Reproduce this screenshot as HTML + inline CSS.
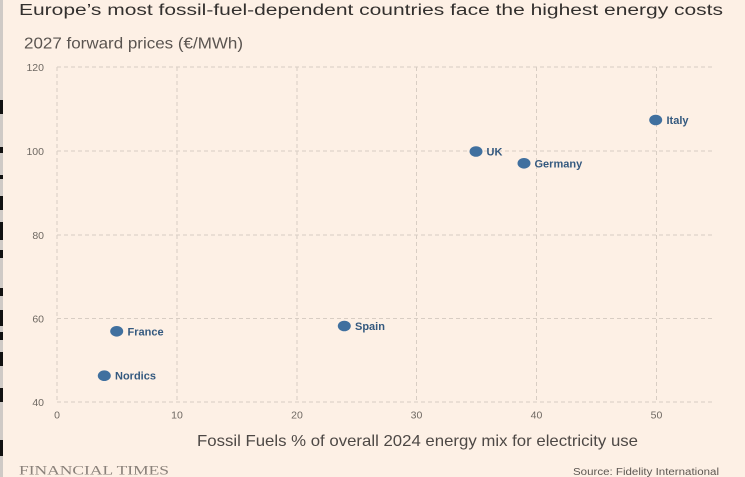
<!DOCTYPE html>
<html>
<head>
<meta charset="utf-8">
<style>
  html,body{margin:0;padding:0;background:#fdf0e5;}
  svg{display:block;}
  text{font-family:"Liberation Sans","DejaVu Sans",sans-serif;}
</style>
</head>
<body>
<svg width="745" height="477" viewBox="0 0 745 477" xmlns="http://www.w3.org/2000/svg">
  <rect x="0" y="0" width="745" height="477" fill="#fdf0e5"/>
  <!-- left edge artifact strip -->
  <rect x="0" y="0" width="3" height="477" fill="#cfcac6"/>
  <g fill="#111">
    <rect x="0" y="100" width="3" height="14"/>
    <rect x="0" y="147" width="3" height="6"/>
    <rect x="0" y="175" width="3" height="4"/>
    <rect x="0" y="196" width="3" height="14"/>
    <rect x="0" y="222" width="3" height="18"/>
    <rect x="0" y="250" width="3" height="8"/>
    <rect x="0" y="288" width="3" height="8"/>
    <rect x="0" y="310" width="3" height="16"/>
    <rect x="0" y="332" width="3" height="8"/>
    <rect x="0" y="352" width="3" height="14"/>
    <rect x="0" y="388" width="3" height="14"/>
    <rect x="0" y="440" width="3" height="16"/>
  </g>

  <!-- Title -->
  <text x="19" y="15" font-size="15.5" fill="#33302e" textLength="704" lengthAdjust="spacingAndGlyphs">Europe’s most fossil-fuel-dependent countries face the highest energy costs</text>
  <!-- Subtitle -->
  <text x="24" y="48.5" font-size="16" fill="#5a5450" textLength="219" lengthAdjust="spacingAndGlyphs">2027 forward prices (€/MWh)</text>

  <!-- grid -->
  <g stroke="#d8cdc3" stroke-width="1" stroke-dasharray="4,3" fill="none">
    <line x1="57" y1="67" x2="715" y2="67"/>
    <line x1="57" y1="151" x2="715" y2="151"/>
    <line x1="57" y1="235" x2="715" y2="235"/>
    <line x1="57" y1="318.5" x2="715" y2="318.5"/>
    <line x1="57" y1="402" x2="715" y2="402"/>
    <line x1="57" y1="67" x2="57" y2="402"/>
    <line x1="177" y1="67" x2="177" y2="402"/>
    <line x1="297" y1="67" x2="297" y2="402"/>
    <line x1="416.5" y1="67" x2="416.5" y2="402"/>
    <line x1="536.5" y1="67" x2="536.5" y2="402"/>
    <line x1="656.5" y1="67" x2="656.5" y2="402"/>
  </g>

  <!-- y ticks -->
  <g font-size="10.5" fill="#6e6862" text-anchor="end">
    <text x="44" y="71">120</text>
    <text x="44" y="155">100</text>
    <text x="44" y="239">80</text>
    <text x="44" y="322.5">60</text>
    <text x="44" y="406">40</text>
  </g>
  <!-- x ticks -->
  <g font-size="10.5" fill="#6e6862" text-anchor="middle">
    <text x="57" y="418.5">0</text>
    <text x="177" y="418.5">10</text>
    <text x="297" y="418.5">20</text>
    <text x="416.5" y="418.5">30</text>
    <text x="536.5" y="418.5">40</text>
    <text x="656.5" y="418.5">50</text>
  </g>

  <!-- x axis title -->
  <text x="197" y="446" font-size="16" fill="#4d4845" textLength="441" lengthAdjust="spacingAndGlyphs">Fossil Fuels % of overall 2024 energy mix for electricity use</text>

  <!-- points -->
  <g fill="#40709f">
    <ellipse cx="655.7" cy="120" rx="6.5" ry="5.3"/>
    <ellipse cx="476" cy="151.5" rx="6.5" ry="5.3"/>
    <ellipse cx="524" cy="163.3" rx="6.5" ry="5.3"/>
    <ellipse cx="116.7" cy="331.3" rx="6.5" ry="5.3"/>
    <ellipse cx="344.3" cy="326" rx="6.5" ry="5.3"/>
    <ellipse cx="104.3" cy="375.7" rx="6.5" ry="5.3"/>
  </g>
  <g font-size="11" font-weight="bold" fill="#34597f">
    <text x="666.5" y="124">Italy</text>
    <text x="486.5" y="155.5">UK</text>
    <text x="534.5" y="167.3">Germany</text>
    <text x="127.5" y="335.3">France</text>
    <text x="355" y="330">Spain</text>
    <text x="115" y="379.7">Nordics</text>
  </g>

  <!-- footer -->
  <text x="19" y="474.5" font-size="12.5" fill="#8a817a" style="font-family:'Liberation Serif',serif" textLength="150" lengthAdjust="spacingAndGlyphs">FINANCIAL TIMES</text>
  <text x="573" y="475" font-size="10" fill="#5d5752" textLength="146" lengthAdjust="spacingAndGlyphs">Source: Fidelity International</text>
</svg>
</body>
</html>
